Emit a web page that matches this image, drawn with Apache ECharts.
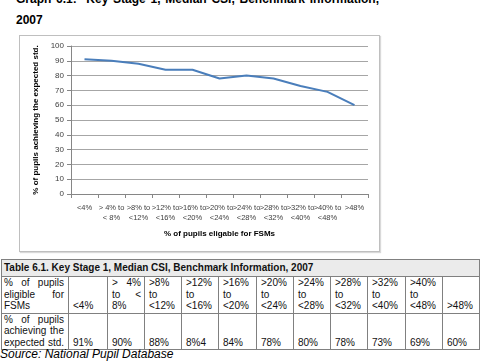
<!DOCTYPE html>
<html>
<head>
<meta charset="utf-8">
<script src="https://cdn.jsdelivr.net/npm/echarts@6/dist/echarts.min.js"></script>
<style>
  html, body { margin:0; padding:0; width:483px; height:362px; overflow:hidden; background:#fff; font-family:"Liberation Sans", Arial, sans-serif; }
  .t1 { position:absolute; left:16px; top:-7px; width:363px; font-weight:bold; font-size:12px; line-height:12px; text-align:justify; text-align-last:justify; white-space:nowrap; }
  .t2 { position:absolute; left:16px; top:14px; font-weight:bold; font-size:12px; line-height:12px; }
  #box { position:absolute; left:19px; top:35px; width:359px; height:215px; border:1px solid #bfbfbf; box-shadow:1px 1px 1px #d9d9d9; }
  #chart { width:359px; height:215px; }
  table { position:absolute; left:1px; top:259px; border-collapse:collapse; table-layout:fixed; font-size:10px; line-height:11.5px; color:#111; }
  td { border:1px solid #808080; padding:0 3px 1px 4px; vertical-align:bottom; overflow:hidden; }
  td.first { padding:0 4px 1px 2px; }
  td.first div { white-space:nowrap; }
  td.h { background:#ebebeb; font-weight:bold; height:15px; vertical-align:middle; padding-left:2px; }
  .j { text-align:justify; text-align-last:justify; }
  .src { position:absolute; left:0px; top:348px; font-style:italic; font-size:12px; line-height:12px; white-space:nowrap; }
</style>
</head>
<body>
<div class="t1">Graph 6.1:&nbsp; Key Stage 1, Median CSI, Benchmark Information,</div>
<div class="t2">2007</div>
<div id="box"><div id="chart"></div></div>
<table id="tbl"></table>
<div class="src">Source: National Pupil Database</div>
<script>
// ---- data ----
const categories = ["<4%", "> 4% to\n< 8%", ">8% to\n<12%", ">12% to\n<16%", ">16% to\n<20%", ">20% to\n<24%", ">24% to\n<28%", ">28% to\n<32%", ">32% to\n<40%", ">40% to\n<48%", ">48%"];
const achieving = [91, 90, 88, 84, 84, 78, 80, 78, 73, 69, 60];
const xAxisTitle = "% of pupils eligable for FSMs";
const yAxisTitle = "% of pupils achieving the expected std.";
const tableTitle = "Table 6.1. Key Stage 1, Median CSI, Benchmark Information, 2007";
const rowHead1 = ["% of pupils", "eligible for", "FSMs"];
const rowHead2 = ["% of pupils", "achieving the", "expected std."];
const tableBands = [["<4%"], [">  4%", "to  <", "8%"], [">8%", "to", "<12%"], [">12%", "to", "<16%"], [">16%", "to", "<20%"], [">20%", "to", "<24%"], [">24%", "to", "<28%"], [">28%", "to", "<32%"], [">32%", "to", "<40%"], [">40%", "to", "<48%"], [">48%"]];
const tableValues = ["91%", "90%", "88%", "8%4", "84%", "78%", "80%", "78%", "73%", "69%", "60%"];
const colWidths = [67, 39, 37, 37, 37, 38, 37, 37, 37, 38, 37, 37];

// ---- table ----
const esc = s => s.replace(/&/g,"&amp;").replace(/</g,"&lt;").replace(/>/g,"&gt;");
function lines(arr, justify) {
  return arr.map((l, i) => {
    const j = justify && i < arr.length - 1 ? ' class="j"' : '';
    return '<div' + j + ' style="white-space:pre">' + esc(l) + '</div>';
  }).join('');
}
let html = '<colgroup>' + colWidths.map(w => '<col style="width:' + w + 'px">').join('') + '</colgroup>';
html += '<tr><td class="h" colspan="12">' + esc(tableTitle) + '</td></tr>';
html += '<tr style="height:35px"><td class="first">' + lines(rowHead1, true) + '</td>' + tableBands.map(b => '<td>' + lines(b, true) + '</td>').join('') + '</tr>';
html += '<tr style="height:34px"><td class="first">' + rowHead2.map(l => '<div class="j">' + esc(l) + '</div>').join('') + '</td>' + tableValues.map(v => '<td>' + esc(v) + '</td>').join('') + '</tr>';
document.getElementById('tbl').innerHTML = html;
document.getElementById('tbl').style.width = colWidths.reduce((a, b) => a + b, 0) + 'px';

// ---- chart ----
const chart = echarts.init(document.getElementById('chart'), null, { renderer: 'canvas' });
chart.setOption({
  animation: false,
  grid: { left: 51, top: 10, width: 297, height: 148 },
  xAxis: {
    type: 'category',
    data: categories,
    boundaryGap: true,
    axisLine: { show: true, lineStyle: { color: '#868686', width: 1 } },
    axisTick: { show: true, length: 4, alignWithLabel: false, lineStyle: { color: '#868686' } },
    axisLabel: { interval: 0, fontSize: 7.5, lineHeight: 10, margin: 9, color: '#404040', fontFamily: 'Liberation Sans' },
    name: xAxisTitle,
    nameLocation: 'middle',
    nameGap: 36,
    nameTextStyle: { fontSize: 8, fontWeight: 'bold', color: '#000', fontFamily: 'Liberation Sans' }
  },
  yAxis: {
    type: 'value',
    min: 0, max: 100, interval: 10,
    axisLine: { show: true, lineStyle: { color: '#868686', width: 1 } },
    axisTick: { show: true, length: 4, lineStyle: { color: '#868686' } },
    axisLabel: { fontSize: 8, margin: 7, color: '#404040', fontFamily: 'Liberation Sans' },
    splitLine: { show: true, lineStyle: { color: '#a6a6a6', width: 1 } },
    name: yAxisTitle,
    nameLocation: 'middle',
    nameRotate: 90,
    nameGap: 31,
    nameTextStyle: { fontSize: 8, fontWeight: 'bold', color: '#000', fontFamily: 'Liberation Sans' }
  },
  series: [{
    type: 'line',
    data: achieving,
    symbol: 'none',
    lineStyle: { color: '#4a7ebb', width: 2 },
    itemStyle: { color: '#4a7ebb' }
  }]
});
</script>
</body>
</html>
